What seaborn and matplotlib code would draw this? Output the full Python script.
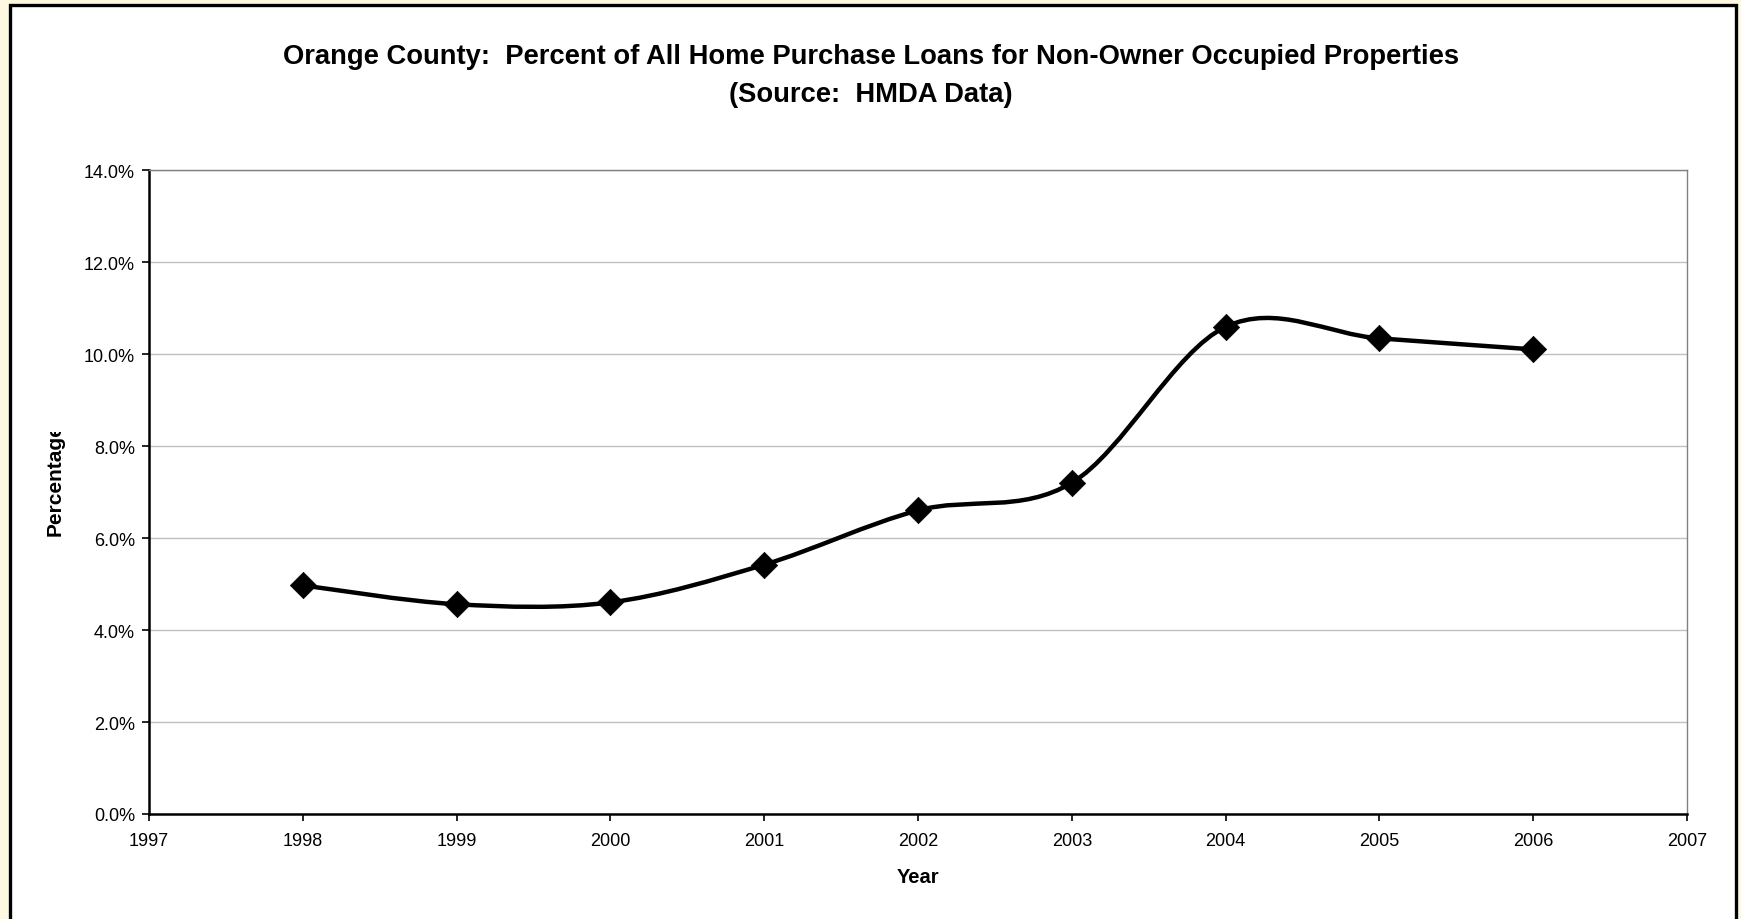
import matplotlib
matplotlib.use("Agg")
import matplotlib.pyplot as plt
from matplotlib.path import Path
from matplotlib.patches import PathPatch, Rectangle
from matplotlib.ticker import FuncFormatter
from matplotlib.transforms import Bbox
import seaborn as sns
import pandas as pd

# Orange County HMDA data: share of home purchase loans for non-owner occupied properties
years = [1998, 1999, 2000, 2001, 2002, 2003, 2004, 2005, 2006]
pct_non_owner = [4.97, 4.56, 4.60, 5.42, 6.60, 7.20, 10.59, 10.34, 10.10]
y_ticks = [0, 2, 4, 6, 8, 10, 12, 14]
x_ticks = list(range(1997, 2008))

title_line1 = "Orange County:  Percent of All Home Purchase Loans for Non-Owner Occupied Properties"
title_line2 = "(Source:  HMDA Data)"

sns.set_theme(style="white")
plt.rcParams["font.family"] = ["Liberation Sans", "DejaVu Sans"]
plt.rcParams["text.color"] = "black"

W, H = 1741, 920
fig = plt.figure(figsize=(W / 100, H / 100), dpi=100)
fig.patch.set_facecolor("#FFF8E1")

# white chart panel with a black frame (open at the bottom edge)
panel = Rectangle((9.5 / W, -0.05), (1735.5 - 9.5) / W, (H - 5.5) / H + 0.05,
                  transform=fig.transFigure, facecolor="white", edgecolor="black",
                  linewidth=2.4, zorder=0)
fig.patches.append(panel)

left, right, top, bottom = 149, 1687, 171, 815
ax = fig.add_axes([left / W, (H - bottom) / H, (right - left) / W, (bottom - top) / H])
ax.set_zorder(2)
ax.set_facecolor("white")

df = pd.DataFrame({"Year": years, "Percent": pct_non_owner})

# smoothed connecting line: cubic Bezier segments through the data points
xs, ys = list(df["Year"]), list(df["Percent"])
n = len(xs)
verts = [(xs[0], ys[0])]
codes = [Path.MOVETO]
for i in range(n - 1):
    i0 = max(i - 1, 0)
    i3 = min(i + 2, n - 1)
    c1 = (xs[i] + (xs[i + 1] - xs[i0]) / 6.0, ys[i] + (ys[i + 1] - ys[i0]) / 6.0)
    c2 = (xs[i + 1] - (xs[i3] - xs[i]) / 6.0, ys[i + 1] - (ys[i3] - ys[i]) / 6.0)
    verts += [c1, c2, (xs[i + 1], ys[i + 1])]
    codes += [Path.CURVE4, Path.CURVE4, Path.CURVE4]
ax.add_patch(PathPatch(Path(verts, codes), facecolor="none", edgecolor="black",
                       linewidth=3.2, capstyle="round", joinstyle="round", zorder=3))

sns.scatterplot(data=df, x="Year", y="Percent", marker="D", s=180, color="black",
                edgecolor="black", linewidth=0.5, ax=ax, zorder=4, legend=False)

ax.set_xlim(1997, 2007)
ax.set_ylim(0, 14)
ax.set_xticks(x_ticks)
ax.set_yticks(y_ticks)
ax.yaxis.set_major_formatter(FuncFormatter(lambda v, p: f"{v:.1f}%"))
ax.xaxis.set_major_formatter(FuncFormatter(lambda v, p: f"{int(v)}"))

ax.grid(axis="y", color="#C0C0C0", linewidth=1.0)
ax.set_axisbelow(True)

for side in ("left", "bottom"):
    ax.spines[side].set_color("black")
    ax.spines[side].set_linewidth(1.8)
for side in ("top", "right"):
    ax.spines[side].set_color("#808080")
    ax.spines[side].set_linewidth(1.0)

ax.tick_params(axis="both", direction="out", length=5, width=1.2, color="black",
               labelsize=13, labelcolor="black")
ax.tick_params(axis="x", pad=8, bottom=True)
ax.tick_params(axis="y", pad=5, left=True)

ax.set_xlabel("")
ax.set_ylabel("")
fig.text(0.5 * (left + right) / W, (H - 878) / H, "Year", ha="center", va="center",
         fontsize=14.5, fontweight="bold")

# axis title is cut off by the plot-area box at the top
ylab = fig.text(55.5 / W, (H - 536) / H, "Percentage", rotation=90, ha="center", va="bottom",
                fontsize=15, fontweight="bold")
ylab.set_clip_box(Bbox.from_extents(0, 0, 200, H - 433))
ylab.set_clip_on(True)

fig.text(871 / W, (H - 57) / H, title_line1, ha="center", va="center",
         fontsize=19.7, fontweight="bold")
fig.text(871 / W, (H - 95) / H, title_line2, ha="center", va="center",
         fontsize=19.7, fontweight="bold")

fig.savefig("out.png", dpi=100, facecolor=fig.get_facecolor())
